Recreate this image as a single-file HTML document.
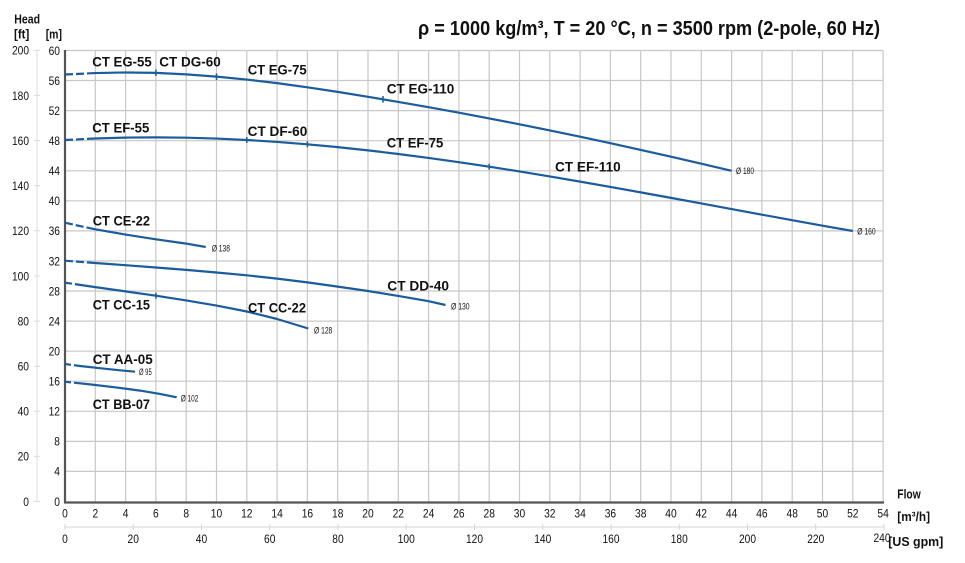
<!DOCTYPE html>
<html><head><meta charset="utf-8"><style>
html,body{margin:0;padding:0;background:#fff;}
svg{display:block;}
text{font-family:"Liberation Sans",Arial,sans-serif;fill:#111;}
.ax{font-size:12px;}
.lb{font-size:13.5px;font-weight:bold;}
.d{font-size:9px;fill:#222;}
.b{font-weight:bold;font-size:12.5px;}
</style></head><body>
<svg width="965" height="563" viewBox="0 0 965 563" xmlns="http://www.w3.org/2000/svg">
<rect width="965" height="563" fill="#fff"/>
<!-- grid -->
<g stroke="#c8c8c8" stroke-width="1.2" fill="none">
<path d="M65,50.5V501.5M95.3,50.5V501.5M125.6,50.5V501.5M155.9,50.5V501.5M186.2,50.5V501.5M216.5,50.5V501.5M246.8,50.5V501.5M277.1,50.5V501.5M307.4,50.5V501.5M337.7,50.5V501.5M368,50.5V501.5M398.3,50.5V501.5M428.6,50.5V501.5M458.9,50.5V501.5M489.2,50.5V501.5M519.5,50.5V501.5M549.8,50.5V501.5M580.1,50.5V501.5M610.4,50.5V501.5M640.7,50.5V501.5M671,50.5V501.5M701.3,50.5V501.5M731.6,50.5V501.5M761.9,50.5V501.5M792.2,50.5V501.5M822.5,50.5V501.5M852.8,50.5V501.5M883.1,50.5V501.5"/>
<path d="M65,50.5H883.1M65,80.5H883.1M65,110.6H883.1M65,140.7H883.1M65,170.8H883.1M65,200.8H883.1M65,230.9H883.1M65,261H883.1M65,291H883.1M65,321.1H883.1M65,351.2H883.1M65,381.2H883.1M65,411.3H883.1M65,441.4H883.1M65,471.4H883.1"/>
</g>
<!-- ft axis -->
<g stroke="#dcdcdc" stroke-width="1" fill="none">
<path d="M37,50.4V501.5"/>
<path d="M34,50.4H40M34,95.5H40M34,140.6H40M34,185.7H40M34,230.8H40M34,276H40M34,321.1H40M34,366.2H40M34,411.3H40M34,456.4H40M34,501.5H40"/>
</g>
<!-- gpm axis -->
<g stroke="#d6d6d6" stroke-width="1" fill="none">
<path d="M65,527H884"/>
<path d="M65,524V530M133.25,524V530M201.5,524V530M269.75,524V530M338,524V530M406.25,524V530M474.5,524V530M542.75,524V530M611,524V530M679.25,524V530M747.5,524V530M815.75,524V530M884,524V530"/>
</g>
<!-- main axes -->
<path d="M65,50V502.5H884" stroke="#555" stroke-width="2.2" fill="none"/>

<!-- curves -->
<g stroke="#1b5c9c" stroke-width="2.2" fill="none" stroke-linejoin="round" stroke-linecap="butt">
<path stroke-dasharray="8 3 8 3 5000" d="M65,74.5L95.3,73.06L125.6,72.46L155.9,72.86L186.2,74.36L216.5,76.64L246.8,79.58L277.1,83.14L307.4,87.28L337.7,91.88L368,96.78L398.3,101.9L428.6,107.2L458.9,112.7L489.2,118.4L519.5,124.3L549.8,130.4L580.1,136.7L610.4,143.2L640.7,149.9L671,156.7L701.3,163.7L731.6,170.8"/>
<path stroke-dasharray="8 3 8 3 5000" d="M65,140L95.3,138.47L125.6,137.59L155.9,137.34L186.2,137.68L216.5,138.58L246.8,140L277.1,141.93L307.4,144.32L337.7,147.15L368,150.38L398.3,153.98L428.6,157.92L458.9,162.17L489.2,166.69L519.5,171.46L549.8,176.44L580.1,181.61L610.4,186.92L640.7,192.37L671,197.88L701.3,203.46L731.6,209.06L761.9,214.65L792.2,220.2L822.5,225.7L852.8,231"/>
<path stroke-dasharray="8 3 8 3 5000" d="M65,222.7L80,226.1L95.3,229.3L125.6,234.6L155.9,239.3L186.2,243.6L205.7,247"/>
<path stroke-dasharray="8 3 8 3 5000" d="M65,260.7L95.3,263L125.6,265.2L155.9,267.5L186.2,269.9L216.5,272.5L246.8,275.3L277.1,278.6L307.4,282.4L337.7,286.6L368,291L398.3,295.9L428.6,301.2L445.5,305"/>
<path stroke-dasharray="7 3 5000" d="M65,282.7L95.3,287.1L125.6,291.4L155.9,295.7L186.2,300.4L216.5,305.6L246.8,311.5L277.1,319L308.3,328.5"/>
<path stroke-dasharray="6 3 5000" d="M65,364L80,366L100,368.2L120,370.3L135,371.7"/>
<path stroke-dasharray="6 3 5000" d="M65,381.7L90,384.4L115,387.3L140,390.6L160,393.9L176.7,397.3"/>
</g>
<!-- ticks on curves -->
<g stroke="#1b5c9c" stroke-width="1.5">
<path d="M155.9,69.5V76M216.5,73.5V80M383,96V102.6M246.8,137V143M307.4,141.3V147.3M489.2,163.7V169.7M155.9,292.7V298.7"/>
</g>

<!-- title -->
<text x="418" y="35" font-size="20" font-weight="bold" textLength="462" lengthAdjust="spacingAndGlyphs">ρ = 1000 kg/m³, T = 20 °C, n = 3500 rpm (2-pole, 60 Hz)</text>

<!-- axis titles -->
<text class="b" x="14.3" y="23.3" textLength="25.7" lengthAdjust="spacingAndGlyphs">Head</text>
<text class="b" x="14" y="38.3" textLength="15.3" lengthAdjust="spacingAndGlyphs">[ft]</text>
<text class="b" x="45.7" y="38.3" textLength="16.3" lengthAdjust="spacingAndGlyphs">[m]</text>
<text class="b" x="897.3" y="498.3" textLength="23.4" lengthAdjust="spacingAndGlyphs">Flow</text>
<text class="b" x="897.3" y="521" textLength="32.7" lengthAdjust="spacingAndGlyphs">[m³/h]</text>
<text class="b" x="888.3" y="546" textLength="55" lengthAdjust="spacingAndGlyphs">[US gpm]</text>

<!-- m labels -->
<g class="ax" text-anchor="end">
<text x="60" y="505.8" textLength="5.7" lengthAdjust="spacingAndGlyphs">0</text>
<text x="60" y="475.7" textLength="5.7" lengthAdjust="spacingAndGlyphs">4</text>
<text x="60" y="445.7" textLength="5.7" lengthAdjust="spacingAndGlyphs">8</text>
<text x="60" y="415.6" textLength="11.4" lengthAdjust="spacingAndGlyphs">12</text>
<text x="60" y="385.5" textLength="11.4" lengthAdjust="spacingAndGlyphs">16</text>
<text x="60" y="355.5" textLength="11.4" lengthAdjust="spacingAndGlyphs">20</text>
<text x="60" y="325.4" textLength="11.4" lengthAdjust="spacingAndGlyphs">24</text>
<text x="60" y="295.3" textLength="11.4" lengthAdjust="spacingAndGlyphs">28</text>
<text x="60" y="265.3" textLength="11.4" lengthAdjust="spacingAndGlyphs">32</text>
<text x="60" y="235.2" textLength="11.4" lengthAdjust="spacingAndGlyphs">36</text>
<text x="60" y="205.1" textLength="11.4" lengthAdjust="spacingAndGlyphs">40</text>
<text x="60" y="175.1" textLength="11.4" lengthAdjust="spacingAndGlyphs">44</text>
<text x="60" y="145" textLength="11.4" lengthAdjust="spacingAndGlyphs">48</text>
<text x="60" y="114.9" textLength="11.4" lengthAdjust="spacingAndGlyphs">52</text>
<text x="60" y="84.8" textLength="11.4" lengthAdjust="spacingAndGlyphs">56</text>
<text x="60" y="54.8" textLength="11.4" lengthAdjust="spacingAndGlyphs">60</text>
</g>
<!-- ft labels -->
<g class="ax" text-anchor="end">
<text x="29" y="505.8" textLength="5.7" lengthAdjust="spacingAndGlyphs">0</text>
<text x="29" y="460.7" textLength="11.4" lengthAdjust="spacingAndGlyphs">20</text>
<text x="29" y="415.6" textLength="11.4" lengthAdjust="spacingAndGlyphs">40</text>
<text x="29" y="370.5" textLength="11.4" lengthAdjust="spacingAndGlyphs">60</text>
<text x="29" y="325.4" textLength="11.4" lengthAdjust="spacingAndGlyphs">80</text>
<text x="29" y="280.3" textLength="17" lengthAdjust="spacingAndGlyphs">100</text>
<text x="29" y="235.1" textLength="17" lengthAdjust="spacingAndGlyphs">120</text>
<text x="29" y="190" textLength="17" lengthAdjust="spacingAndGlyphs">140</text>
<text x="29" y="144.9" textLength="17" lengthAdjust="spacingAndGlyphs">160</text>
<text x="29" y="99.8" textLength="17" lengthAdjust="spacingAndGlyphs">180</text>
<text x="29" y="54.7" textLength="17" lengthAdjust="spacingAndGlyphs">200</text>
</g>
<!-- flow m3/h labels -->
<g class="ax" text-anchor="middle">
<text x="65" y="517.3" textLength="5.7" lengthAdjust="spacingAndGlyphs">0</text>
<text x="95.3" y="517.3" textLength="5.7" lengthAdjust="spacingAndGlyphs">2</text>
<text x="125.6" y="517.3" textLength="5.7" lengthAdjust="spacingAndGlyphs">4</text>
<text x="155.9" y="517.3" textLength="5.7" lengthAdjust="spacingAndGlyphs">6</text>
<text x="186.2" y="517.3" textLength="5.7" lengthAdjust="spacingAndGlyphs">8</text>
<text x="216.5" y="517.3" textLength="11.4" lengthAdjust="spacingAndGlyphs">10</text>
<text x="246.8" y="517.3" textLength="11.4" lengthAdjust="spacingAndGlyphs">12</text>
<text x="277.1" y="517.3" textLength="11.4" lengthAdjust="spacingAndGlyphs">14</text>
<text x="307.4" y="517.3" textLength="11.4" lengthAdjust="spacingAndGlyphs">16</text>
<text x="337.7" y="517.3" textLength="11.4" lengthAdjust="spacingAndGlyphs">18</text>
<text x="368" y="517.3" textLength="11.4" lengthAdjust="spacingAndGlyphs">20</text>
<text x="398.3" y="517.3" textLength="11.4" lengthAdjust="spacingAndGlyphs">22</text>
<text x="428.6" y="517.3" textLength="11.4" lengthAdjust="spacingAndGlyphs">24</text>
<text x="458.9" y="517.3" textLength="11.4" lengthAdjust="spacingAndGlyphs">26</text>
<text x="489.2" y="517.3" textLength="11.4" lengthAdjust="spacingAndGlyphs">28</text>
<text x="519.5" y="517.3" textLength="11.4" lengthAdjust="spacingAndGlyphs">30</text>
<text x="549.8" y="517.3" textLength="11.4" lengthAdjust="spacingAndGlyphs">32</text>
<text x="580.1" y="517.3" textLength="11.4" lengthAdjust="spacingAndGlyphs">34</text>
<text x="610.4" y="517.3" textLength="11.4" lengthAdjust="spacingAndGlyphs">36</text>
<text x="640.7" y="517.3" textLength="11.4" lengthAdjust="spacingAndGlyphs">38</text>
<text x="671" y="517.3" textLength="11.4" lengthAdjust="spacingAndGlyphs">40</text>
<text x="701.3" y="517.3" textLength="11.4" lengthAdjust="spacingAndGlyphs">42</text>
<text x="731.6" y="517.3" textLength="11.4" lengthAdjust="spacingAndGlyphs">44</text>
<text x="761.9" y="517.3" textLength="11.4" lengthAdjust="spacingAndGlyphs">46</text>
<text x="792.2" y="517.3" textLength="11.4" lengthAdjust="spacingAndGlyphs">48</text>
<text x="822.5" y="517.3" textLength="11.4" lengthAdjust="spacingAndGlyphs">50</text>
<text x="852.8" y="517.3" textLength="11.4" lengthAdjust="spacingAndGlyphs">52</text>
<text x="883.1" y="517.3" textLength="11.4" lengthAdjust="spacingAndGlyphs">54</text>
</g>
<!-- gpm labels -->
<g class="ax" text-anchor="middle">
<text x="65" y="543" textLength="5.7" lengthAdjust="spacingAndGlyphs">0</text>
<text x="133.25" y="543" textLength="11.4" lengthAdjust="spacingAndGlyphs">20</text>
<text x="201.5" y="543" textLength="11.4" lengthAdjust="spacingAndGlyphs">40</text>
<text x="269.75" y="543" textLength="11.4" lengthAdjust="spacingAndGlyphs">60</text>
<text x="338" y="543" textLength="11.4" lengthAdjust="spacingAndGlyphs">80</text>
<text x="406.25" y="543" textLength="17" lengthAdjust="spacingAndGlyphs">100</text>
<text x="474.5" y="543" textLength="17" lengthAdjust="spacingAndGlyphs">120</text>
<text x="542.75" y="543" textLength="17" lengthAdjust="spacingAndGlyphs">140</text>
<text x="611" y="543" textLength="17" lengthAdjust="spacingAndGlyphs">160</text>
<text x="679.25" y="543" textLength="17" lengthAdjust="spacingAndGlyphs">180</text>
<text x="747.5" y="543" textLength="17" lengthAdjust="spacingAndGlyphs">200</text>
<text x="815.75" y="543" textLength="17" lengthAdjust="spacingAndGlyphs">220</text>
<text x="882" y="542" textLength="17" lengthAdjust="spacingAndGlyphs">240</text>
</g>

<!-- curve labels -->
<g class="lb">
<text x="92.3" y="66.7" textLength="59.4" lengthAdjust="spacingAndGlyphs">CT EG-55</text>
<text x="159.3" y="66.7" textLength="61.4" lengthAdjust="spacingAndGlyphs">CT DG-60</text>
<text x="247.7" y="74.3" textLength="59" lengthAdjust="spacingAndGlyphs">CT EG-75</text>
<text x="386.7" y="93.3" textLength="67.6" lengthAdjust="spacingAndGlyphs">CT EG-110</text>
<text x="92.3" y="132.7" textLength="57" lengthAdjust="spacingAndGlyphs">CT EF-55</text>
<text x="247.7" y="136" textLength="59.6" lengthAdjust="spacingAndGlyphs">CT DF-60</text>
<text x="386.7" y="147.7" textLength="56.6" lengthAdjust="spacingAndGlyphs">CT EF-75</text>
<text x="555" y="171.7" textLength="65.7" lengthAdjust="spacingAndGlyphs">CT EF-110</text>
<text x="92.7" y="225.7" textLength="57.3" lengthAdjust="spacingAndGlyphs">CT CE-22</text>
<text x="387.3" y="290.5" textLength="61.7" lengthAdjust="spacingAndGlyphs">CT DD-40</text>
<text x="92.7" y="309.3" textLength="57.3" lengthAdjust="spacingAndGlyphs">CT CC-15</text>
<text x="248" y="312.5" textLength="58" lengthAdjust="spacingAndGlyphs">CT CC-22</text>
<text x="92.7" y="364" textLength="60" lengthAdjust="spacingAndGlyphs">CT AA-05</text>
<text x="92.7" y="409" textLength="57.3" lengthAdjust="spacingAndGlyphs">CT BB-07</text>
</g>
<!-- diameter labels -->
<g class="d">
<text x="736" y="174" textLength="18" lengthAdjust="spacingAndGlyphs">Ø 180</text>
<text x="857.3" y="234.3" textLength="18.4" lengthAdjust="spacingAndGlyphs">Ø 160</text>
<text x="211.7" y="251.7" textLength="18.3" lengthAdjust="spacingAndGlyphs">Ø 138</text>
<text x="314" y="333.3" textLength="18.3" lengthAdjust="spacingAndGlyphs">Ø 128</text>
<text x="451" y="309.3" textLength="18.6" lengthAdjust="spacingAndGlyphs">Ø 130</text>
<text x="139" y="375" textLength="12.7" lengthAdjust="spacingAndGlyphs">Ø 95</text>
<text x="180.7" y="401.7" textLength="17.6" lengthAdjust="spacingAndGlyphs">Ø 102</text>
</g>
</svg>
</body></html>
